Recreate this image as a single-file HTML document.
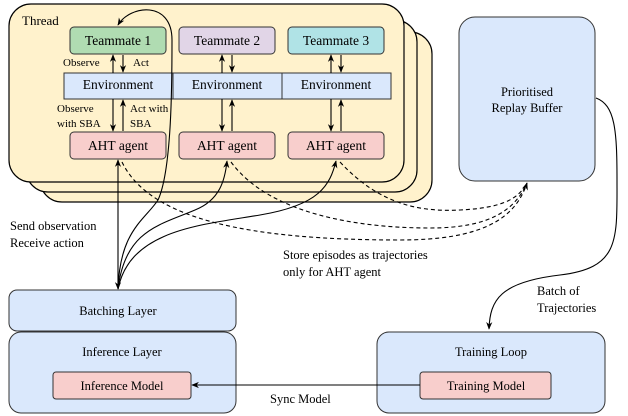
<!DOCTYPE html>
<html><head><style>
body{margin:0;background:#fff}
svg{display:block}
</style></head><body>
<svg width="628" height="416" viewBox="0 0 628 416" xmlns="http://www.w3.org/2000/svg" font-family="'Liberation Serif','DejaVu Serif',serif">
<defs>
<marker id="a" viewBox="0 0 10 10" refX="9" refY="5" markerWidth="7" markerHeight="7" orient="auto-start-reverse"><path d="M0,1 L10,5 L0,9 L3,5 z" fill="#000"/></marker>
</defs>
<g stroke="#000" stroke-width="1.2" fill="#fff2cc">
<rect x="40" y="32" width="392" height="170" rx="22"/>
<rect x="26" y="20" width="391" height="172" rx="22"/>
<rect x="9" y="4" width="395" height="178" rx="22"/>
</g>
<g font-family="'Liberation Serif','DejaVu Serif',serif" fill="#000">
<text x="22" y="25" font-size="13">Thread</text>
</g>
<g stroke="#333" stroke-width="1">
<rect x="70" y="27" width="96" height="27" rx="4" fill="#b0dcb2"/>
<rect x="179" y="27" width="96" height="27" rx="4" fill="#e1d5e7"/>
<rect x="288" y="27" width="96" height="27" rx="4" fill="#b0e3e6"/>
<rect x="64" y="73" width="109" height="26" fill="#dae8fc"/>
<rect x="173" y="73" width="109" height="26" fill="#dae8fc"/>
<rect x="282" y="73" width="109" height="26" fill="#dae8fc"/>
<rect x="70" y="132" width="96" height="27" rx="4" fill="#f8cecc"/>
<rect x="179" y="132" width="96" height="27" rx="4" fill="#f8cecc"/>
<rect x="288" y="132" width="96" height="27" rx="4" fill="#f8cecc"/>
<rect x="459" y="17" width="136" height="164" rx="16" fill="#dae8fc"/>
<rect x="9" y="290" width="227" height="41" rx="8" fill="#dae8fc"/>
<rect x="9" y="332" width="227" height="81" rx="12" fill="#dae8fc"/>
<rect x="53" y="372" width="138" height="27" rx="3" fill="#f8cecc"/>
<rect x="377" y="332" width="228" height="81" rx="12" fill="#dae8fc"/>
<rect x="420" y="372" width="131" height="27" rx="3" fill="#f8cecc"/>
</g>
<g font-size="13.5" text-anchor="middle" font-family="'Liberation Serif','DejaVu Serif',serif" fill="#000">
<text x="118" y="45">Teammate 1</text><text x="227" y="45">Teammate 2</text><text x="336" y="45">Teammate 3</text>
<text x="118" y="89">Environment</text><text x="227" y="89">Environment</text><text x="336" y="89">Environment</text>
<text x="118" y="150">AHT agent</text><text x="227" y="150">AHT agent</text><text x="336" y="150">AHT agent</text>
<text x="527" y="96" font-size="12.5">Prioritised</text><text x="527" y="112" font-size="12.5">Replay Buffer</text>
<text x="118" y="315" font-size="12.5">Batching Layer</text>
<text x="122" y="356" font-size="12.5">Inference Layer</text>
<text x="122" y="390" font-size="12.5">Inference Model</text>
<text x="491" y="356" font-size="12.5">Training Loop</text>
<text x="486" y="390" font-size="12.5">Training Model</text>
</g>
<g font-size="11" font-family="'Liberation Serif','DejaVu Serif',serif" fill="#000">
<text x="63" y="66">Observe</text><text x="133" y="66">Act</text>
<text x="57" y="112">Observe</text><text x="57" y="127">with SBA</text>
<text x="130" y="112">Act with</text><text x="130" y="127">SBA</text>
</g>
<g font-size="12.5" font-family="'Liberation Serif','DejaVu Serif',serif" fill="#000">
<text x="10" y="230">Send observation</text><text x="10" y="247">Receive action</text>
<text x="283" y="259">Store episodes as trajectories</text><text x="283" y="276">only for AHT agent</text>
<text x="537" y="295">Batch of</text><text x="537" y="312">Trajectories</text>
<text x="270" y="403">Sync Model</text>
</g>
<g stroke="#000" stroke-width="1.1" fill="none">
<line x1="113" y1="73" x2="113" y2="55" marker-end="url(#a)"/><line x1="123" y1="55" x2="123" y2="72" marker-end="url(#a)"/>
<line x1="222" y1="73" x2="222" y2="55" marker-end="url(#a)"/><line x1="232" y1="55" x2="232" y2="72" marker-end="url(#a)"/>
<line x1="331" y1="73" x2="331" y2="55" marker-end="url(#a)"/><line x1="341" y1="55" x2="341" y2="72" marker-end="url(#a)"/>
<line x1="113" y1="99" x2="113" y2="131" marker-end="url(#a)"/><line x1="123" y1="131" x2="123" y2="100" marker-end="url(#a)"/>
<line x1="222" y1="99" x2="222" y2="131" marker-end="url(#a)"/><line x1="232" y1="131" x2="232" y2="100" marker-end="url(#a)"/>
<line x1="331" y1="99" x2="331" y2="131" marker-end="url(#a)"/><line x1="341" y1="131" x2="341" y2="100" marker-end="url(#a)"/>
<line x1="118" y1="160" x2="118" y2="289" marker-start="url(#a)" marker-end="url(#a)"/>
<path d="M118,289 C120,230 145,220 158,200 C172,170 172,80 172,40 C172,0 130,5 118,25" marker-end="url(#a)"/>
<path d="M118,289 C125,230 160,225 195,210 C220,200 225,180 227,161" marker-end="url(#a)"/>
<path d="M118,289 C130,230 200,225 260,215 C320,205 330,185 336,161" marker-end="url(#a)"/>
<path d="M596,98 C615,105 617,130 617,180 C617,240 620,268 560,275 C500,282 490,300 489,329" marker-end="url(#a)"/>
<line x1="420" y1="385" x2="192" y2="385" marker-end="url(#a)"/>
</g>
<g stroke="#000" stroke-width="1.1" fill="none" stroke-dasharray="4,3">
<path d="M122,162 C150,220 250,240 400,240 C480,240 515,220 527,183" marker-end="url(#a)"/>
<path d="M231,162 C270,215 360,228 430,228 C490,228 515,210 527,183"/>
<path d="M340,162 C380,205 420,212 460,210 C500,208 518,200 527,183"/>
</g>
</svg>
</body></html>
